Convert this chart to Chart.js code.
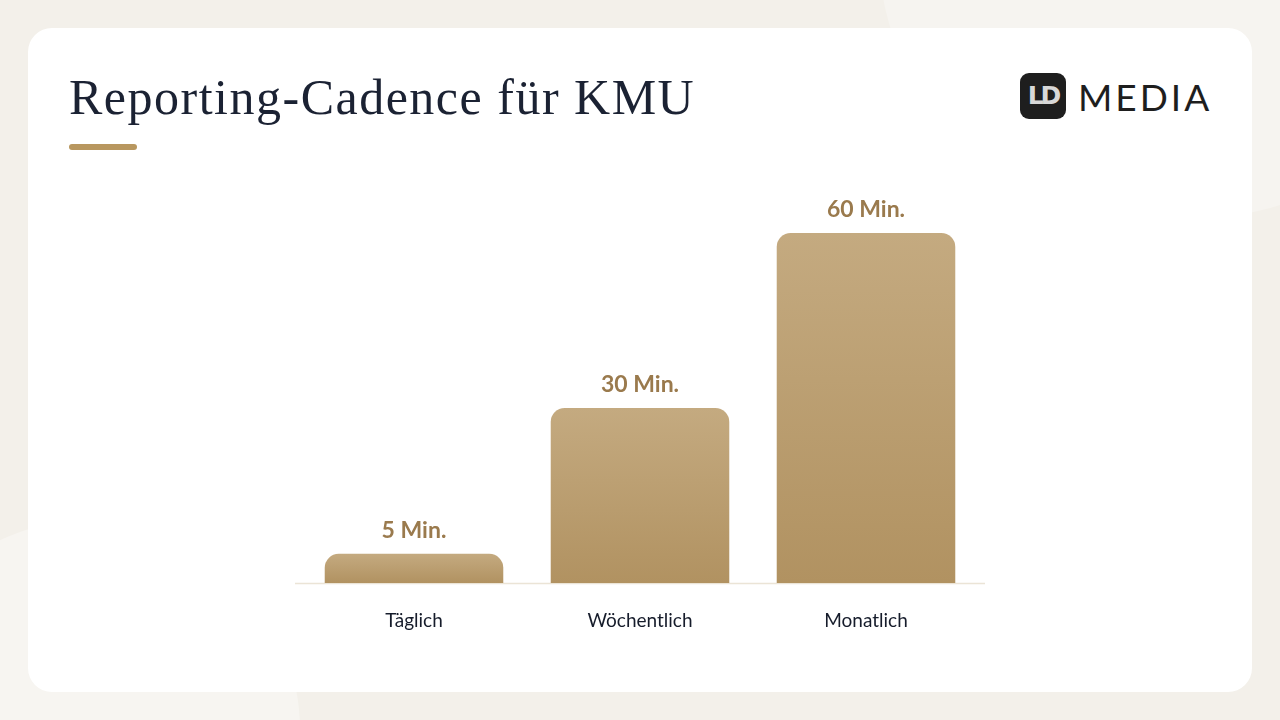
<!DOCTYPE html>
<html>
<head>
<meta charset="utf-8">
<script src="https://cdn.jsdelivr.net/npm/chart.js@4.4.1/dist/chart.umd.min.js"></script>
<style>
  html, body { margin:0; padding:0; width:1280px; height:720px; overflow:hidden; background:#f3f0ea; }
  .bgshape1 { position:absolute; left:-120px; top:520px; width:420px; height:420px; border-radius:50%; background:#f7f5f1; }
  .bgshape2 { position:absolute; left:880px; top:-300px; width:600px; height:520px; border-radius:50%; background:#f6f4f0; }
  .card { position:absolute; left:28px; top:28px; width:1224px; height:664px; background:#ffffff; border-radius:24px; }
  .title { position:absolute; left:69px; top:68px; font-family:"Liberation Serif", serif; font-size:50px; color:#1b2233; white-space:nowrap; letter-spacing:1.5px; }
  .rule { position:absolute; left:69px; top:144px; width:68px; height:6px; border-radius:3px; background:#b8975f; }
  .logo { position:absolute; left:1020px; top:73px; width:46px; height:46px; border-radius:9px; background:#1e1e1e; color:#d8d8d8; font-family:"DejaVu Sans", sans-serif; font-weight:bold; font-size:25px; line-height:46px; text-align:center; letter-spacing:-3px; }
  .logotext { position:absolute; left:1078px; top:74px; font-family:"Lato", sans-serif; font-weight:400; font-size:37px; color:#1e1e1e; letter-spacing:3px; line-height:46px; }
  #wrap { position:absolute; left:0; top:0; width:1280px; height:720px; }
</style>
</head>
<body>
<div class="bgshape1"></div>
<div class="bgshape2"></div>
<div class="card"></div>
<div class="title">Reporting-Cadence für KMU</div>
<div class="rule"></div>
<div class="logo">LD</div>
<div class="logotext">MEDIA</div>
<div id="wrap"><canvas id="c"></canvas></div>
<script>
const categories = ["Täglich", "Wöchentlich", "Monatlich"];
const minutes = [5, 30, 60];
const valueLabels = ["5 Min.", "30 Min.", "60 Min."];

const valueLabelPlugin = {
  id: 'valueLabels',
  beforeDatasetsDraw(chart) {
    const ctx = chart.ctx, a = chart.chartArea;
    ctx.save();
    ctx.strokeStyle = '#ebe4d6';
    ctx.lineWidth = 1.5;
    ctx.beginPath();
    ctx.moveTo(a.left - 6, a.bottom + 0.5);
    ctx.lineTo(a.right + 6, a.bottom + 0.5);
    ctx.stroke();
    ctx.restore();
  },
  afterDatasetsDraw(chart) {
    const ctx = chart.ctx;
    const meta = chart.getDatasetMeta(0);
    ctx.save();
    ctx.fillStyle = '#9a7a4d';
    ctx.font = 'bold 23px Lato, sans-serif';
    ctx.textAlign = 'center';
    ctx.textBaseline = 'middle';
    meta.data.forEach((bar, i) => {
      ctx.fillText(valueLabels[i], bar.x, bar.y - 23);
    });
    ctx.restore();
  }
};

new Chart(document.getElementById('c'), {
  type: 'bar',
  data: {
    labels: categories,
    datasets: [{
      data: minutes,
      backgroundColor: (c) => {
        const chart = c.chart;
        if (!chart.chartArea || c.parsed === undefined) return '#b8975f';
        const y = chart.scales.y;
        const top = y.getPixelForValue(c.parsed.y);
        const bottom = y.getPixelForValue(0);
        const g = chart.ctx.createLinearGradient(0, top, 0, bottom);
        g.addColorStop(0, '#c4aa80');
        g.addColorStop(1, '#b19261');
        return g;
      },
      borderRadius: { topLeft: 14, topRight: 14, bottomLeft: 0, bottomRight: 0 },
      borderSkipped: 'bottom',
      categoryPercentage: 1,
      barPercentage: 0.79
    }]
  },
  options: {
    responsive: true,
    maintainAspectRatio: false,
    animation: false,
    layout: { padding: { left: 301, right: 301, top: 233, bottom: 0 } },
    plugins: { legend: { display: false }, tooltip: { enabled: false } },
    scales: {
      y: { display: false, min: 0, max: 60 },
      x: {
        grid: { display: false, drawTicks: false },
        border: { display: false },
        ticks: { color: '#161c2b', font: { family: 'Lato, sans-serif', size: 19 }, padding: 26 },
        afterFit: (s) => { s.height = 137; }
      }
    }
  },
  plugins: [valueLabelPlugin]
});
</script>
</body>
</html>
